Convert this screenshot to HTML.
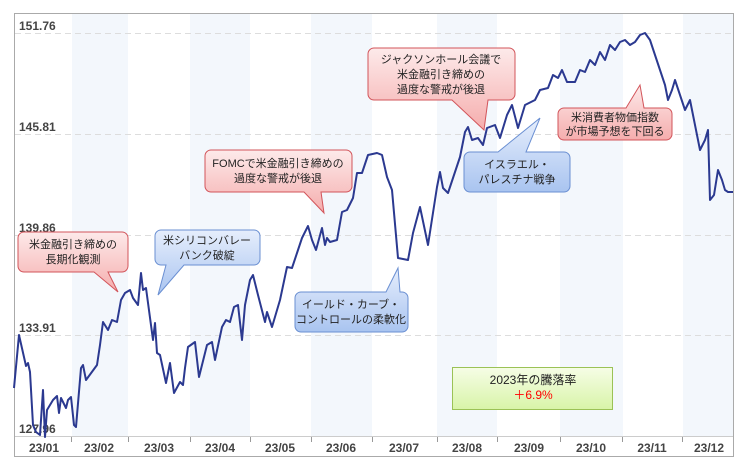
<!DOCTYPE html>
<html><head><meta charset="utf-8"><style>
body{margin:0;background:#fff}
svg text{font-family:"Liberation Sans","Noto Sans CJK JP",sans-serif}
</style></head><body>
<svg width="750" height="468" viewBox="0 0 750 468" xmlns="http://www.w3.org/2000/svg">
<defs>
<linearGradient id="gr" x1="0" y1="0" x2="0" y2="1"><stop offset="0" stop-color="#fdeaea"/><stop offset="1" stop-color="#f5adad"/></linearGradient>
<linearGradient id="gb" x1="0" y1="0" x2="0" y2="1"><stop offset="0" stop-color="#e6eefc"/><stop offset="1" stop-color="#a9c4f0"/></linearGradient>
<linearGradient id="gg" x1="0" y1="0" x2="0" y2="1"><stop offset="0" stop-color="#f6fde6"/><stop offset="1" stop-color="#d8f4a8"/></linearGradient>
</defs>
<rect x="14.5" y="13.5" width="719" height="443" fill="#fff" stroke="#aaa"/>
<g fill="#f3f7fc">
<rect x="72" y="14" width="56" height="422"/><rect x="190" y="14" width="60" height="422"/>
<rect x="311" y="14" width="61" height="422"/><rect x="437" y="14" width="60" height="422"/>
<rect x="560" y="14" width="63" height="422"/><rect x="683" y="14" width="50" height="422"/>
</g>
<g stroke="#ddd" stroke-dasharray="6,4" stroke-width="1">
<line x1="15" y1="33.5" x2="733" y2="33.5"/><line x1="15" y1="134.5" x2="733" y2="134.5"/>
<line x1="15" y1="235.5" x2="733" y2="235.5"/><line x1="15" y1="335.5" x2="733" y2="335.5"/>
</g>
<line x1="15" y1="436.5" x2="733" y2="436.5" stroke="#ccc"/>
<g stroke="#999"><line x1="71.5" y1="437" x2="71.5" y2="442"/><line x1="128.5" y1="437" x2="128.5" y2="442"/><line x1="190.5" y1="437" x2="190.5" y2="442"/><line x1="250.5" y1="437" x2="250.5" y2="442"/><line x1="311.5" y1="437" x2="311.5" y2="442"/><line x1="372.5" y1="437" x2="372.5" y2="442"/><line x1="437.5" y1="437" x2="437.5" y2="442"/><line x1="497.5" y1="437" x2="497.5" y2="442"/><line x1="560.5" y1="437" x2="560.5" y2="442"/><line x1="622.5" y1="437" x2="622.5" y2="442"/><line x1="682.5" y1="437" x2="682.5" y2="442"/></g>
<g font-size="12" font-weight="bold" fill="#444">
<text x="19" y="30">151.76</text><text x="19" y="131">145.81</text><text x="19" y="232">139.86</text><text x="19" y="332">133.91</text><text x="19" y="433">127.96</text>
</g>
<g font-size="12" font-weight="bold" fill="#444" text-anchor="middle">
<text x="44" y="452">23/01</text><text x="99" y="452">23/02</text><text x="159" y="452">23/03</text><text x="220" y="452">23/04</text><text x="280" y="452">23/05</text><text x="341" y="452">23/06</text><text x="404" y="452">23/07</text><text x="467" y="452">23/08</text><text x="529" y="452">23/09</text><text x="591" y="452">23/10</text><text x="652" y="452">23/11</text><text x="709" y="452">23/12</text>
</g>
<polyline fill="none" stroke="#2b3990" stroke-width="2" stroke-linejoin="round" points="14,388 19,335 26,366 28,363 30,372 33,425 36,432 40,435 43,390 45,437 47,410 53,400 57,396 59,413 61,398 66,408 68,400 71,397 74,425 76,427 81,368 83,365 86,380 97,365 100,345 103,322 108,330 112,320 117,322 121,300 125,293 130,290 133,298 138,305 141,273 143,290 146,288 153,340 155,323 157,353 160,355 166,383 170,363 174,393 180,382 183,385 185,368 188,347 195,342 199,377 207,345 212,342 215,360 222,327 226,320 230,322 234,307 238,305 242,340 245,305 250,280 253,275 258,295 265,322 267,312 272,327 280,300 287,267 292,268 297,253 302,238 308,226 312,240 316,250 322,228 325,245 327,238 330,242 337,240 342,212 347,210 353,198 357,173 362,173 368,155 377,153 382,155 387,177 392,190 398,258 408,260 413,233 420,207 428,245 437,187 440,172 443,188 448,193 460,157 465,132 468,127 472,140 478,138 483,145 487,128 495,125 500,138 507,115 512,105 518,128 525,105 535,100 540,90 548,88 553,75 558,78 562,70 567,82 575,82 580,70 585,72 590,60 595,65 600,52 605,60 610,45 615,50 620,42 625,40 630,45 635,42 640,35 645,33 650,40 655,55 660,70 665,85 668,100 672,90 675,80 680,95 685,110 690,100 693,115 697,135 700,150 705,140 708,130 710,200 714,195 718,170 722,180 725,190 728,192 733,192"/>
<g font-size="11" fill="#222" text-anchor="middle">
<path d="M24,232 h98 a6,6 0 0 1 6,6 v28 a6,6 0 0 1 -6,6 h-14 l10,20 -24,-20 h-70 a6,6 0 0 1 -6,-6 v-28 a6,6 0 0 1 6,-6z" fill="url(#gr)" stroke="#d2545a"/>
<text x="73" y="248">米金融引き締めの</text><text x="73" y="263">長期化観測</text>
<path d="M161,230 h93 a6,6 0 0 1 6,6 v23 a6,6 0 0 1 -6,6 h-70 l-26,30 8,-30 h-5 a6,6 0 0 1 -6,-6 v-23 a6,6 0 0 1 6,-6z" fill="url(#gb)" stroke="#6a8fd2"/>
<text x="207" y="244">米シリコンバレー</text><text x="207" y="259">バンク破綻</text>
<path d="M211,150 h135 a6,6 0 0 1 6,6 v30 a6,6 0 0 1 -6,6 h-25 l3,21 -20,-21 h-93 a6,6 0 0 1 -6,-6 v-30 a6,6 0 0 1 6,-6z" fill="url(#gr)" stroke="#d2545a"/>
<text x="278" y="167">FOMCで米金融引き締めの</text><text x="278" y="182">過度な警戒が後退</text>
<path d="M301,292 h85 l12,-24 2,24 h2 a6,6 0 0 1 6,6 v28 a6,6 0 0 1 -6,6 h-101 a6,6 0 0 1 -6,-6 v-28 a6,6 0 0 1 6,-6z" fill="url(#gb)" stroke="#6a8fd2"/>
<text x="351" y="308">イールド・カーブ・</text><text x="351" y="323">コントロールの柔軟化</text>
<path d="M374,48 h135 a6,6 0 0 1 6,6 v40 a6,6 0 0 1 -6,6 h-21 l-4,30 -32,-30 h-78 a6,6 0 0 1 -6,-6 v-40 a6,6 0 0 1 6,-6z" fill="url(#gr)" stroke="#d2545a"/>
<text x="441" y="63">ジャクソンホール会議で</text><text x="441" y="78">米金融引き締めの</text><text x="441" y="93">過度な警戒が後退</text>
<path d="M470,152 h28 l42,-34 -14,34 h38 a6,6 0 0 1 6,6 v28 a6,6 0 0 1 -6,6 h-94 a6,6 0 0 1 -6,-6 v-28 a6,6 0 0 1 6,-6z" fill="url(#gb)" stroke="#6a8fd2"/>
<text x="517" y="168">イスラエル・</text><text x="517" y="183">パレスチナ戦争</text>
<path d="M564,108 h62 l14,-23 4,23 h22 a6,6 0 0 1 6,6 v20 a6,6 0 0 1 -6,6 h-102 a6,6 0 0 1 -6,-6 v-20 a6,6 0 0 1 6,-6z" fill="url(#gr)" stroke="#d2545a"/>
<text x="615" y="121">米消費者物価指数</text><text x="615" y="135">が市場予想を下回る</text>
</g>
<rect x="452.5" y="367.5" width="160" height="42" fill="url(#gg)" stroke="#9bc256"/>
<text x="533" y="384" font-size="12" text-anchor="middle" fill="#222">2023年の騰落率</text>
<text x="533" y="399" font-size="12" text-anchor="middle" fill="#f00">＋6.9%</text>
</svg>
</body></html>
